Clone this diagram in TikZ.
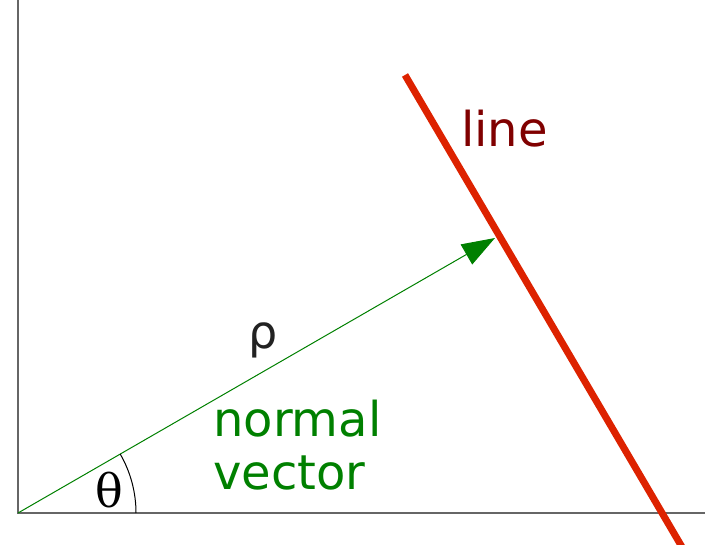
\documentclass[tikz,border=0pt]{standalone}
\usepackage{fontspec}
\setmainfont{DejaVu Sans}
\newfontfamily\thetafont{DejaVu Serif}
\usetikzlibrary{arrows.meta}
\definecolor{axisgrey}{HTML}{666666}
\definecolor{vecgreen}{HTML}{008000}
\definecolor{linered}{HTML}{DD2200}
\definecolor{labelred}{HTML}{800000}
\definecolor{rhogrey}{HTML}{222222}
\tikzset{
  bigtext/.style={font=\fontsize{48}{56}\selectfont, inner sep=0pt, anchor=base west},
}
\begin{document}
\begin{tikzpicture}[x=1pt,y=-1pt]
\clip (0,0) rectangle (705,545);
\coordinate (O) at (18,513);
\coordinate (ytop) at (18,0);
\coordinate (xend) at (705,513);
\coordinate (tip) at (495,238);
\coordinate (ltop) at (405,75);
\coordinate (lbot) at (682,547);

\draw[axisgrey, line width=1.5pt] (ytop) -- (O) -- (xend);
\draw[linered, line width=7pt] (ltop) -- (lbot);
\draw[vecgreen, line width=1pt, -{Triangle[length=33pt,width=23pt]}] (O) -- (tip);
\draw[black, line width=1pt] ([shift={(0:118)}]O) arc[start angle=0, end angle=-30, radius=118];

\node[bigtext, labelred] (lbl) at (461,147) {line};
\node[bigtext, vecgreen] (nv1) at (213,437) {normal};
\node[bigtext, vecgreen] (nv2) at (213,490) {vector};
\node[font=\fontsize{46}{54}\selectfont, inner sep=0pt, rhogrey] (rho) at (263,340) {ρ};
\node[font=\thetafont\fontsize{46}{54}\selectfont, inner sep=0pt] (theta) at (109,490) {θ};
\end{tikzpicture}
\end{document}
